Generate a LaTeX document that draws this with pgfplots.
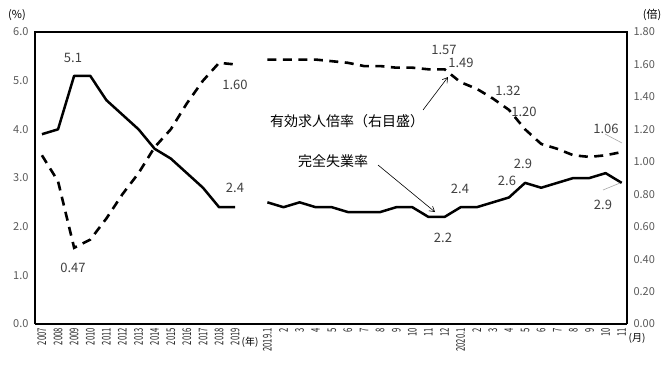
\documentclass[border=0pt]{standalone}
\usepackage{fontspec}
\setmainfont{Noto Sans CJK JP}
\usepackage{graphicx}
\usepackage{pgfplots}
\pgfplotsset{compat=1.18}
\usetikzlibrary{arrows.meta}
\definecolor{ticktxt}{HTML}{595959}
\definecolor{lbltxt}{HTML}{404040}
\newcommand\tl[1]{\scalebox{0.64}[1]{#1}}
\begin{document}
\begin{tikzpicture}[x=1bp,y=1bp]
\path[use as bounding box] (0,0) rectangle (670,370);
\pgfplotsset{
  common/.style={
    at={(35bp,46bp)}, anchor=south west,
    scale only axis, width=592bp, height=292bp,
    xmin=-0.43, xmax=36.33,
    major tick length=0pt,
    axis line style={draw=none},
    clip=false,
  },
}
\begin{axis}[common,
  ymin=0, ymax=6, ytick={0,1,...,6},
  yticklabel style={/pgf/number format/fixed,/pgf/number format/fixed zerofill,/pgf/number format/precision=1,
    font=\fontsize{11bp}{12bp}\selectfont, text=ticktxt, xshift=-3bp},
  /pgf/number format/assume math mode=true,
  xtick={0,...,36},
  xticklabels={\tl{2007},\tl{2008},\tl{2009},\tl{2010},\tl{2011},\tl{2012},\tl{2013},\tl{2014},\tl{2015},\tl{2016},\tl{2017},\tl{2018},\tl{2019},{},\tl{2019.1},\tl{2},\tl{3},\tl{4},\tl{5},\tl{6},\tl{7},\tl{8},\tl{9},\tl{10},\tl{11},\tl{12},\tl{2020.1},\tl{2},\tl{3},\tl{4},\tl{5},\tl{6},\tl{7},\tl{8},\tl{9},\tl{10},\tl{11}},
  xticklabel style={rotate=90, anchor=east, font=\fontsize{12bp}{13bp}\selectfont, text=black!85, inner sep=4bp},
]
\addplot[black, line width=2.5bp, line join=round] coordinates {
(0,3.9)(1,4.0)(2,5.1)(3,5.1)(4,4.6)(5,4.3)(6,4.0)(7,3.6)(8,3.4)(9,3.1)(10,2.8)(11,2.4)(12,2.4)};
\addplot[black, line width=2.5bp, line join=round] coordinates {
(14,2.5)(15,2.4)(16,2.5)(17,2.4)(18,2.4)(19,2.3)(20,2.3)(21,2.3)(22,2.4)(23,2.4)(24,2.2)(25,2.2)
(26,2.4)(27,2.4)(28,2.5)(29,2.6)(30,2.9)(31,2.8)(32,2.9)(33,3.0)(34,3.0)(35,3.1)(36,2.9)};
\draw[black, line width=2.6bp] (rel axis cs:0,0) -- (rel axis cs:0,1) -- (rel axis cs:1,1) -- (rel axis cs:1,0);
\draw[black, line width=1.8bp] (rel axis cs:0,0) -- (rel axis cs:1,0);
\end{axis}
\begin{axis}[common,
  ymin=0, ymax=1.8, ytick={0,0.2,...,1.81},
  axis y line*=right, axis x line=none,
  yticklabel style={/pgf/number format/fixed,/pgf/number format/fixed zerofill,/pgf/number format/precision=2,
    font=\fontsize{11bp}{12bp}\selectfont, text=ticktxt, xshift=3bp},
  /pgf/number format/assume math mode=true,
]
\addplot[black, line width=2.6bp, dash pattern=on 9bp off 6.5bp] coordinates {
(0,1.04)(1,0.88)(2,0.47)(3,0.52)(4,0.65)(5,0.80)(6,0.93)(7,1.09)(8,1.20)(9,1.36)(10,1.50)(11,1.61)(12,1.60)};
\addplot[black, line width=2.6bp, dash pattern=on 9bp off 6.5bp] coordinates {
(14,1.63)(15,1.63)(16,1.63)(17,1.63)(18,1.62)(19,1.61)(20,1.59)(21,1.59)(22,1.58)(23,1.58)(24,1.57)(25,1.57)
(26,1.49)(27,1.45)(28,1.39)(29,1.32)(30,1.20)(31,1.11)(32,1.08)(33,1.04)(34,1.03)(35,1.04)(36,1.06)};
\end{axis}
% axis unit labels
\node[font=\fontsize{11bp}{12bp}\selectfont] at (17,355) {(\%)};
\node[font=\fontsize{11bp}{12bp}\selectfont] at (652,355) {(倍)};
\node[font=\fontsize{10bp}{11bp}\selectfont] at (250,28) {(年)};
\node[font=\fontsize{10bp}{11bp}\selectfont] at (637,32) {(月)};
% data labels
\begin{scope}[every node/.style={font=\fontsize{13bp}{14bp}\selectfont, text=lbltxt, inner sep=0pt}]
\node at (73,312) {5.1};
\node at (73,102) {0.47};
\node at (235,285) {1.60};
\node at (235,182) {2.4};
\node at (444,320) {1.57};
\node at (461,307) {1.49};
\node at (508,279) {1.32};
\node at (524,258) {1.20};
\node at (606,241) {1.06};
\node at (460,181) {2.4};
\node at (443,132) {2.2};
\node at (507,189) {2.6};
\node at (523,206) {2.9};
\node at (603,165) {2.9};
\end{scope}
\draw[gray!70, line width=0.6bp] (605,236) -- (622,227);
\draw[gray!70, line width=0.6bp] (603,180) -- (620,187);
% annotations
\node[font=\fontsize{14bp}{15bp}\selectfont] at (347,249) {有効求人倍率（右目盛）};
\draw[black, line width=0.6bp, -{Straight Barb[length=5bp,width=6bp]}] (423,260) -- (448,293);
\node[font=\fontsize{14bp}{15bp}\selectfont] at (333,209) {完全失業率};
\draw[black, line width=0.6bp, -{Straight Barb[length=5bp,width=6bp]}] (378,205) -- (435,158);
\end{tikzpicture}
\end{document}
